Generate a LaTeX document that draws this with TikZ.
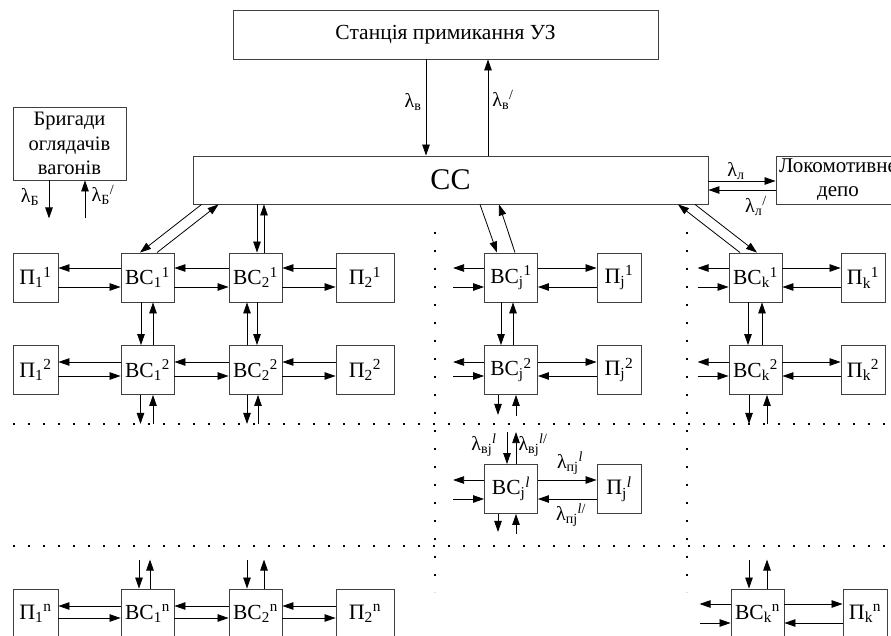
\documentclass[tikz,border=0pt]{standalone}
\usepackage{fontspec}
\setmainfont{Liberation Serif}
\usetikzlibrary{arrows.meta}
\newcommand\sbsp[2]{\textsubscript{#1}\textsuperscript{#2}}
\begin{document}
\begin{tikzpicture}[x=1pt,y=-1pt,
 box/.style={draw=black!75,line width=0.9pt,inner sep=0pt,fill=white},
 pbox/.style={box,minimum width=45pt,minimum height=49pt,font=\fontsize{22}{26}\selectfont},
 bcbox/.style={box,minimum width=53pt,minimum height=49pt,font=\fontsize{21.5}{26}\selectfont},
 arr/.style={draw=black,line width=0.8pt,-{Triangle[length=11pt,width=7.5pt]}},
 lab/.style={inner sep=0pt,font=\fontsize{20}{22}\selectfont},
 hdots/.style={draw=black,line width=1.8pt,dash pattern=on 1.8pt off 13.2pt},
 vdots/.style={draw=black,line width=1.8pt,dash pattern=on 1.8pt off 16.2pt}
]
\useasboundingbox (0,0) rectangle (891,636);
\clip (0,0) rectangle (891,636);

% dotted separators
\draw[hdots] (13,424) -- (891,424);
\draw[hdots] (13,546) -- (891,546);
\draw[vdots] (435,232) -- (435,592);
\draw[vdots] (687,232) -- (687,592);

% top blocks
\node[box,minimum width=425pt,minimum height=49pt,font=\fontsize{21.5}{24}\selectfont] (st) at (445.5,34.5) {Станція примикання УЗ};
\node[box,minimum width=515pt,minimum height=48pt,font=\fontsize{30}{32}\selectfont] (cc) at (450.5,180) {СС};
\node[box,minimum width=113pt,minimum height=73pt,align=center,font=\fontsize{20.5}{24.5}\selectfont] (br) at (69.5,143.5) {Бригади\\оглядачів\\вагонів};
\node[box,minimum width=124pt,minimum height=48pt,align=center,font=\fontsize{21}{24}\selectfont] (dep) at (838,180) {Локомотивне\\депо};

% rows
\node[pbox] (p11) at (35.5,277.5) {П\sbsp{1}{1}};
\node[bcbox] (b11) at (147.5,277.5) {ВС\sbsp{1}{1}};
\node[bcbox] (b21) at (255.5,277.5) {ВС\sbsp{2}{1}};
\node[pbox,minimum width=58pt] (p21) at (365,277.5) {П\sbsp{2}{1}};
\node[pbox] (p12) at (35.5,370) {П\sbsp{1}{2}};
\node[bcbox] (b12) at (147.5,370) {ВС\sbsp{1}{2}};
\node[bcbox] (b22) at (255.5,370) {ВС\sbsp{2}{2}};
\node[pbox,minimum width=58pt] (p22) at (365,370) {П\sbsp{2}{2}};
\node[pbox] (p1n) at (35.5,613.5) {П\sbsp{1}{n}};
\node[bcbox] (b1n) at (147.5,613.5) {ВС\sbsp{1}{n}};
\node[bcbox] (b2n) at (255.5,613.5) {ВС\sbsp{2}{n}};
\node[pbox,minimum width=58pt] (p2n) at (365,613.5) {П\sbsp{2}{n}};

\node[bcbox] (bj1) at (511,277.5) {ВС\sbsp{j}{1}};
\node[pbox,minimum width=44pt] (pj1) at (619,277.5) {П\sbsp{j}{1}};
\node[bcbox] (bj2) at (511,370) {ВС\sbsp{j}{2}};
\node[pbox,minimum width=44pt] (pj2) at (619,370) {П\sbsp{j}{2}};
\node[bcbox] (bjl) at (511,489) {ВС\sbsp{j}{\textit{l}}};
\node[pbox,minimum width=44pt] (pjl) at (619,489) {П\sbsp{j}{\textit{l}}};

\node[bcbox] (bk1) at (755.5,277.5) {ВС\sbsp{k}{1}};
\node[pbox,minimum width=44pt] (pk1) at (863,277.5) {П\sbsp{k}{1}};
\node[bcbox] (bk2) at (755.5,370) {ВС\sbsp{k}{2}};
\node[pbox,minimum width=44pt] (pk2) at (863,370) {П\sbsp{k}{2}};
\node[bcbox] (bkn) at (757.5,613.5) {ВС\sbsp{k}{n}};
\node[pbox,minimum width=44pt] (pkn) at (865,613.5) {П\sbsp{k}{n}};

% station <-> CC
\draw[arr] ([xshift=-19.5pt]st.south) -- ([xshift=-19.5pt]st.south |- cc.north);
\draw[arr] ([xshift=42.5pt]st.south |- cc.north) -- ([xshift=42.5pt]st.south);
\node[lab] (lv) at (413,102) {λ\textsubscript{в}};
\node[lab] (lv2) at (503,100) {λ\sbsp{в}{/}};

% brigades
\draw[arr] ([xshift=-20.5pt]br.south) -- ++(0,38);
\draw[arr] ([xshift=15.5pt]br.south) ++(0,38) -- ([xshift=15.5pt]br.south);
\node[lab] (lb) at (30,197) {λ\textsubscript{Б}};
\node[lab] (lb2) at (103,195) {λ\sbsp{Б}{/}};

% depot
\draw[arr] ([yshift=-1pt]cc.east) -- ([yshift=-1pt]cc.east -| dep.west);
\draw[arr] ([yshift=-10pt]dep.west) -- ([yshift=-10pt]dep.west -| cc.east);
\node[lab] (ll) at (736,171) {λ\textsubscript{л}};
\node[lab] (ll2) at (756,206) {λ\sbsp{л}{/}};

% CC <-> BC1, BC2
\draw[arr] ([xshift=9pt]cc.south west) -- ([xshift=-7.5pt]b11.north);
\draw[arr] ([xshift=9.5pt]b11.north) -- ([xshift=26pt]cc.south west);
\draw[arr] ([xshift=1.5pt]b21.north |- cc.south) -- ([xshift=1.5pt]b21.north);
\draw[arr] ([xshift=8.5pt]b21.north) -- ([xshift=8.5pt]b21.north |- cc.south);

% row 1 horizontals
\draw[arr] ([yshift=9.5pt]b11.west) -- ([yshift=9.5pt]p11.east);
\draw[arr] ([yshift=-9.5pt]p11.east) -- ([yshift=-9.5pt]b11.west);
\draw[arr] ([yshift=9.5pt]b21.west) -- ([yshift=9.5pt]b11.east);
\draw[arr] ([yshift=-9.5pt]b11.east) -- ([yshift=-9.5pt]b21.west);
\draw[arr] ([yshift=9.5pt]p21.west) -- ([yshift=9.5pt]b21.east);
\draw[arr] ([yshift=-9.5pt]b21.east) -- ([yshift=-9.5pt]p21.west);
% row 2 horizontals
\draw[arr] ([yshift=8pt]b12.west) -- ([yshift=8pt]p12.east);
\draw[arr] ([yshift=-6pt]p12.east) -- ([yshift=-6pt]b12.west);
\draw[arr] ([yshift=8pt]b22.west) -- ([yshift=8pt]b12.east);
\draw[arr] ([yshift=-6pt]b12.east) -- ([yshift=-6pt]b22.west);
\draw[arr] ([yshift=8pt]p22.west) -- ([yshift=8pt]b22.east);
\draw[arr] ([yshift=-6pt]b22.east) -- ([yshift=-6pt]p22.west);
% row n horizontals
\draw[arr] ([yshift=7.5pt]b1n.west) -- ([yshift=7.5pt]p1n.east);
\draw[arr] ([yshift=-4.5pt]p1n.east) -- ([yshift=-4.5pt]b1n.west);
\draw[arr] ([yshift=7.5pt]b2n.west) -- ([yshift=7.5pt]b1n.east);
\draw[arr] ([yshift=-4.5pt]b1n.east) -- ([yshift=-4.5pt]b2n.west);
\draw[arr] ([yshift=7.5pt]p2n.west) -- ([yshift=7.5pt]b2n.east);
\draw[arr] ([yshift=-4.5pt]b2n.east) -- ([yshift=-4.5pt]p2n.west);

% verticals left block
\draw[arr] ([xshift=-6.5pt]b11.south) -- ([xshift=-6.5pt]b12.north);
\draw[arr] ([xshift=5.5pt]b12.north) -- ([xshift=5.5pt]b11.south);
\draw[arr] ([xshift=1.5pt]b21.south) -- ([xshift=1.5pt]b22.north);
\draw[arr] ([xshift=-8.5pt]b22.north) -- ([xshift=-8.5pt]b21.south);
\draw[arr] ([xshift=-7pt]b12.south) -- ++(0,29);
\draw[arr] ([xshift=5.5pt]b12.south) ++(0,29) -- ([xshift=5.5pt]b12.south);
\draw[arr] ([xshift=-8.5pt]b22.south) -- ++(0,29);
\draw[arr] ([xshift=2.5pt]b22.south) ++(0,29) -- ([xshift=2.5pt]b22.south);
\draw[arr] ([xshift=-8.5pt]b1n.north) ++(0,-29) -- ([xshift=-8.5pt]b1n.north);
\draw[arr] ([xshift=2.5pt]b1n.north) -- ++(0,-29);
\draw[arr] ([xshift=-8.5pt]b2n.north) ++(0,-29) -- ([xshift=-8.5pt]b2n.north);
\draw[arr] ([xshift=8.5pt]b2n.north) -- ++(0,-29);

% column j
\draw[arr] ([xshift=29.5pt]cc.south) -- ([xshift=-14pt]bj1.north);
\draw[arr] ([xshift=4pt]bj1.north) -- ([xshift=48.5pt]cc.south);
\draw[arr] ([xshift=-10pt]bj1.south) -- ([xshift=-10pt]bj2.north);
\draw[arr] ([xshift=2pt]bj2.north) -- ([xshift=2pt]bj1.south);
\draw[arr] ([xshift=-13pt]bj2.south) -- ++(0,20);
\draw[arr] ([xshift=5pt]bj2.south) ++(0,21) -- ([xshift=5pt]bj2.south);
\foreach \b/\p/\u/\d in {bj1/pj1/9.5/9.5, bj2/pj2/8/6, bjl/pjl/9/10, bk1/pk1/9.5/9.5, bk2/pk2/8/6, bkn/pkn/9.5/9.5}{
  \draw[arr] ([yshift=\u pt]\b.east) -- ([yshift=\u pt]\p.west);
  \draw[arr] ([yshift=-\d pt]\p.west) -- ([yshift=-\d pt]\b.east);
  \draw[arr] ([yshift=\u pt]\b.west) -- ++(-31,0);
  \draw[arr] ([yshift=-\d pt]\b.west) ++(-31,0) -- ([yshift=-\d pt]\b.west);
}
\draw[arr] ([xshift=-4pt]bjl.north) ++(0,-32) -- ([xshift=-4pt]bjl.north);
\draw[arr] ([xshift=5pt]bjl.north) -- ++(0,-32);
\draw[arr] ([xshift=-13pt]bjl.south) -- ++(0,18);
\draw[arr] ([xshift=5pt]bjl.south) ++(0,20) -- ([xshift=5pt]bjl.south);
\node[lab] (lvj) at (484,445) {λ\sbsp{вj}{\textit{l}}};
\node[lab] (lvj2) at (533,445) {λ\sbsp{вj}{\textit{l}/}};
\node[lab] (lpj) at (570,463) {λ\sbsp{пj}{\textit{l}}};
\node[lab] (lpj2) at (571,515) {λ\sbsp{пj}{\textit{l}/}};

% column k
\draw[arr] ([xshift=-15.5pt]bk1.north) -- ([xshift=227.5pt]cc.south);
\draw[arr] ([xshift=244.5pt]cc.south) -- ([xshift=1.5pt]bk1.north);
\draw[arr] ([xshift=-7.5pt]bk1.south) -- ([xshift=-7.5pt]bk2.north);
\draw[arr] ([xshift=6.5pt]bk2.north) -- ([xshift=6.5pt]bk1.south);
\draw[arr] ([xshift=-6.5pt]bk2.south) -- ++(0,29);
\draw[arr] ([xshift=11.5pt]bk2.south) ++(0,29) -- ([xshift=11.5pt]bk2.south);
\draw[arr] ([xshift=-8.5pt]bkn.north) ++(0,-29) -- ([xshift=-8.5pt]bkn.north);
\draw[arr] ([xshift=9.5pt]bkn.north) -- ++(0,-29);
\end{tikzpicture}
\end{document}
